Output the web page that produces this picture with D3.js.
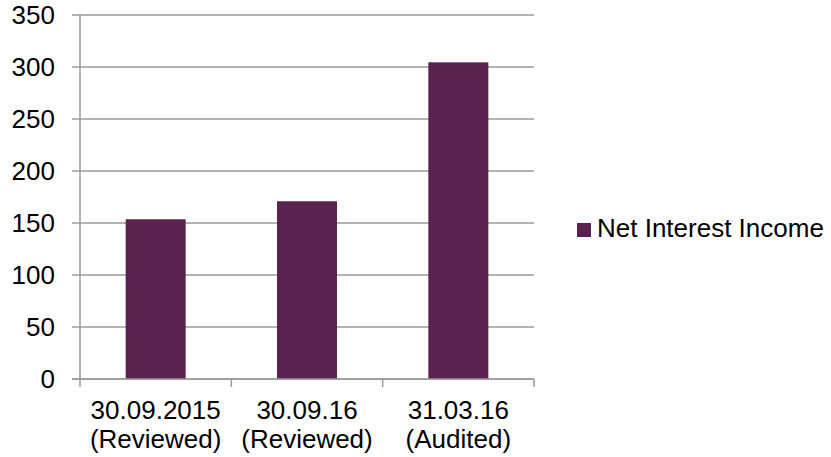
<!DOCTYPE html>
<html>
<head>
<meta charset="utf-8">
<script src="https://cdn.jsdelivr.net/npm/d3@7"></script>
<style>
  html, body { margin: 0; padding: 0; background: #fff; }
  svg text { font-family: "Liberation Sans", Arial, sans-serif; fill: #000; }
</style>
</head>
<body>
<svg id="chart" width="831" height="457"></svg>
<script>
// Net interest income by reporting period
const categories = ["30.09.2015|(Reviewed)", "30.09.16|(Reviewed)", "31.03.16|(Audited)"];
const values = [153.6, 170.9, 304.5];
const yTicks = [0, 50, 100, 150, 200, 250, 300, 350];
const seriesName = "Net Interest Income";

const barColor = "#5a2151";
const gridColor = "#9a9a9a";
const fontSize = 26;

const svg = d3.select("#chart");
const plotLeft = 80, plotRight = 534, plotTop = 15, plotBottom = 379;

const x = d3.scaleBand().domain(categories).range([plotLeft, plotRight]).paddingInner(0).paddingOuter(0);
const y = d3.scaleLinear().domain([0, 350]).range([plotBottom, plotTop]);

// horizontal gridlines with short outer ticks
svg.append("g").selectAll("line").data(yTicks).join("line")
  .attr("x1", plotLeft - 8).attr("x2", plotRight)
  .attr("y1", d => y(d)).attr("y2", d => y(d))
  .attr("stroke", gridColor).attr("stroke-width", 1.5);

// y tick labels
svg.append("g").selectAll("text").data(yTicks).join("text")
  .attr("x", 55).attr("y", d => y(d))
  .attr("dy", "0.36em")
  .attr("text-anchor", "end")
  .style("font-size", fontSize + "px")
  .text(d => d);

// bars
const barW = 60;
svg.append("g").selectAll("rect").data(values).join("rect")
  .attr("x", (d, i) => x(categories[i]) + x.bandwidth() / 2 - barW / 2)
  .attr("width", barW)
  .attr("y", d => y(d))
  .attr("height", d => y(0) - y(d))
  .attr("fill", barColor);

// axis lines
svg.append("line").attr("x1", plotLeft).attr("x2", plotLeft).attr("y1", plotTop).attr("y2", plotBottom)
  .attr("stroke", gridColor).attr("stroke-width", 1.5);
svg.append("line").attr("x1", plotLeft - 8).attr("x2", plotRight).attr("y1", plotBottom).attr("y2", plotBottom)
  .attr("stroke", gridColor).attr("stroke-width", 1.5);

// category boundary ticks on the x axis
const xTickPos = categories.map(c => x(c)).concat([plotRight]);
svg.append("g").selectAll("line").data(xTickPos).join("line")
  .attr("x1", d => d).attr("x2", d => d)
  .attr("y1", plotBottom).attr("y2", plotBottom + 8)
  .attr("stroke", gridColor).attr("stroke-width", 1.5);

// category labels, two lines each
const lbl = svg.append("g").selectAll("text").data(categories).join("text")
  .attr("text-anchor", "middle")
  .style("font-size", fontSize + "px");
lbl.selectAll("tspan").data(d => d.split("|").map(s => ({ s, c: d }))).join("tspan")
  .attr("x", d => x(d.c) + x.bandwidth() / 2)
  .attr("y", (d, i) => 419 + i * 29)
  .text(d => d.s);

// legend
const lg = svg.append("g");
lg.append("rect").attr("x", 577).attr("y", 223).attr("width", 14).attr("height", 14).attr("fill", barColor);
lg.append("text").attr("x", 597).attr("y", 237).style("font-size", fontSize + "px").text(seriesName);
</script>
</body>
</html>
